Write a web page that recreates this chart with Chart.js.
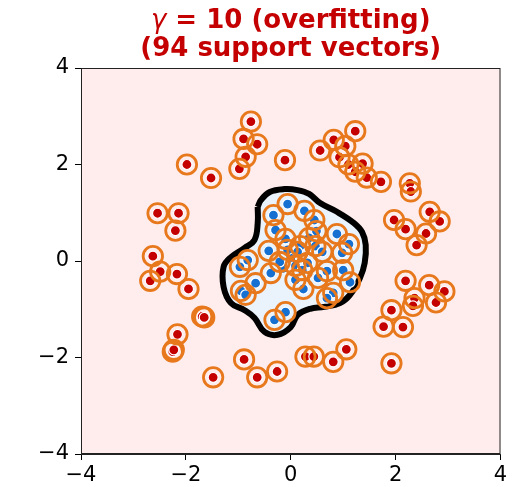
<!DOCTYPE html>
<html><head><meta charset="utf-8">
<script src="https://cdn.jsdelivr.net/npm/chart.js@4.4.1/dist/chart.umd.min.js"></script>
<style>html,body{margin:0;padding:0;background:#fff}</style>
</head><body>
<canvas id="c" width="513" height="487"></canvas>
<script>
// Axis ticks
const axisTicks = [-4, -2, 0, 2, 4];

// Outer ring class (red)
const outerX = [-0.76,-0.90,-0.64,-0.86,-0.98,-0.11,-1.98,-1.52,-2.54,-2.14,-2.20,-2.63,
  1.23,0.82,1.04,0.56,0.93,1.37,1.10,1.23,1.45,1.72,2.27,2.29,2.65,2.84,1.97,2.19,2.58,2.40,
  -2.49,-2.68,-2.17,-1.95,-1.69,-1.65,-2.16,-2.25,-2.23,-1.48,-0.89,-0.64,-0.26,
  2.19,2.64,2.93,2.36,2.33,2.77,1.92,1.77,2.14,0.28,0.44,0.81,1.06,1.92];
const outerY = [2.89,2.53,2.42,2.16,1.91,2.09,2.00,1.72,0.99,0.99,0.63,0.10,
  2.69,2.51,2.38,2.29,2.15,2.02,2.00,1.85,1.73,1.64,1.61,1.44,1.02,0.82,0.85,0.66,0.57,0.33,
  -0.22,-0.41,-0.27,-0.58,-1.15,-1.17,-1.52,-1.88,-1.84,-2.41,-2.04,-2.41,-2.29,
  -0.41,-0.50,-0.63,-0.77,-0.93,-0.86,-1.02,-1.36,-1.37,-1.98,-1.98,-2.09,-1.83,-2.12];

// Inner blob class (blue)
const innerX = [-0.06,-0.33,0.26,-0.29,0.45,0.49,0.88,1.11,-0.10,-0.42,0.18,0.47,0.60,0.98,
  -0.82,-0.97,0.00,0.32,0.09,-0.38,-0.14,0.09,0.24,0.52,0.69,1.00,1.13,-0.67,-0.95,-0.86,
  0.81,0.69,-0.10,-0.31,-0.21,0.13,0.22,-0.06,0.35];
const innerY = [1.18,0.95,1.04,0.64,0.85,0.62,0.56,0.35,0.46,0.21,0.31,0.31,0.19,0.17,
  0.02,-0.12,0.06,-0.04,-0.10,-0.25,-0.15,-0.39,-0.58,-0.35,-0.21,-0.19,-0.44,-0.46,-0.62,-0.70,
  -0.66,-0.77,-1.06,-1.22,-0.02,0.19,-0.19,0.23,0.48];
// Inner points that are not support vectors
const innerNonSupport = [16, 20];

// Decision boundary (closed contour)
const boundaryX = [-0.63,-0.57,-0.40,-0.12,0.13,0.35,0.56,0.88,1.20,1.36,1.43,1.41,1.32,1.13,0.94,
  0.64,0.37,0.13,0.00,-0.25,-0.50,-0.69,-0.88,-1.14,-1.28,-1.28,-1.14,-0.88,-0.69,-0.63,-0.63];
const boundaryY = [1.12,1.26,1.43,1.49,1.47,1.39,1.20,1.02,0.79,0.60,0.33,-0.04,-0.35,-0.70,-0.87,
  -0.95,-0.99,-1.12,-1.37,-1.53,-1.47,-1.18,-1.02,-0.87,-0.54,-0.12,0.08,0.27,0.44,0.79,1.12];

const pts = (xs, ys) => xs.map((x, i) => ({ x, y: ys[i] }));
const outerPts = pts(outerX, outerY);
const innerPts = pts(innerX, innerY);
const supportPts = outerPts.concat(innerPts.filter((_, i) => !innerNonSupport.includes(i)));

const RED = '#c40000', BLUE = '#1670d2', ORANGE = '#e8781c';

const areaBackground = {
  id: 'areaBackground',
  beforeDatasetsDraw(chart) {
    const { ctx, chartArea: a } = chart;
    ctx.save();
    ctx.fillStyle = '#ffeded';
    ctx.fillRect(a.left, a.top, a.right - a.left, a.bottom - a.top);
    ctx.restore();
  },
  afterDraw(chart) {
    const { ctx, chartArea: a } = chart;
    ctx.save();
    ctx.strokeStyle = '#222';
    ctx.lineWidth = 1;
    ctx.strokeRect(a.left + 0.5, a.top + 0.5, a.right - a.left - 1, a.bottom - a.top - 1);
    // title
    const cx = (a.left + a.right) / 2;
    ctx.fillStyle = RED;
    ctx.textBaseline = 'alphabetic';
    const gFont = 'italic 26px "DejaVu Sans"';
    const bFont = 'bold 26px "DejaVu Sans"';
    const rest = ' = 10 (overfitting)';
    ctx.font = gFont; const gw = ctx.measureText('γ').width;
    ctx.font = bFont; const rw = ctx.measureText(rest).width;
    let x0 = cx - (gw + rw) / 2;
    ctx.font = gFont; ctx.textAlign = 'left'; ctx.fillText('γ', x0, 28);
    ctx.font = bFont; ctx.fillText(rest, x0 + gw, 28);
    ctx.textAlign = 'center';
    ctx.fillText('(94 support vectors)', cx, 56);
    ctx.restore();
  }
};

const tickFmt = v => String(v).replace('-', '\u2212');
const axis = (pos) => ({
  type: 'linear', position: pos, min: -4, max: 4,
  afterBuildTicks: s => { s.ticks = axisTicks.map(v => ({ value: v })); },
  ticks: { callback: tickFmt, color: '#000', font: { family: 'DejaVu Sans', size: 21 }, padding: pos === 'left' ? 6 : 3 },
  grid: { drawOnChartArea: false, drawTicks: true, tickLength: 6, color: '#000', tickWidth: 1 },
  border: { display: true, color: '#222', width: 1 },
  afterFit: s => { if (pos === 'left') s.width = 81; else s.height = 33; }
});

new Chart(document.getElementById('c'), {
  type: 'scatter',
  data: {
    datasets: [
      { type: 'line', data: pts(boundaryX, boundaryY), showLine: true, tension: 0.4,
        fill: 'shape', backgroundColor: '#eaf2fc', borderColor: '#000', borderWidth: 6,
        pointRadius: 0, order: 4 },
      { data: innerPts, backgroundColor: BLUE, borderColor: '#fff', borderWidth: 1.2,
        pointRadius: 5, order: 3 },
      { data: outerPts, backgroundColor: RED, borderColor: '#fff', borderWidth: 1.2,
        pointRadius: 5, order: 2 },
      { data: supportPts, backgroundColor: 'rgba(0,0,0,0)', borderColor: ORANGE, borderWidth: 2.8,
        pointRadius: 9.7, order: 1 }
    ]
  },
  options: {
    responsive: false, animation: false, devicePixelRatio: 1,
    layout: { padding: { top: 68, right: 9, left: 0, bottom: 0 } },
    plugins: { legend: { display: false }, tooltip: { enabled: false }, title: { display: false } },
    scales: { x: axis('bottom'), y: axis('left') }
  },
  plugins: [areaBackground]
});
</script>
</body></html>
